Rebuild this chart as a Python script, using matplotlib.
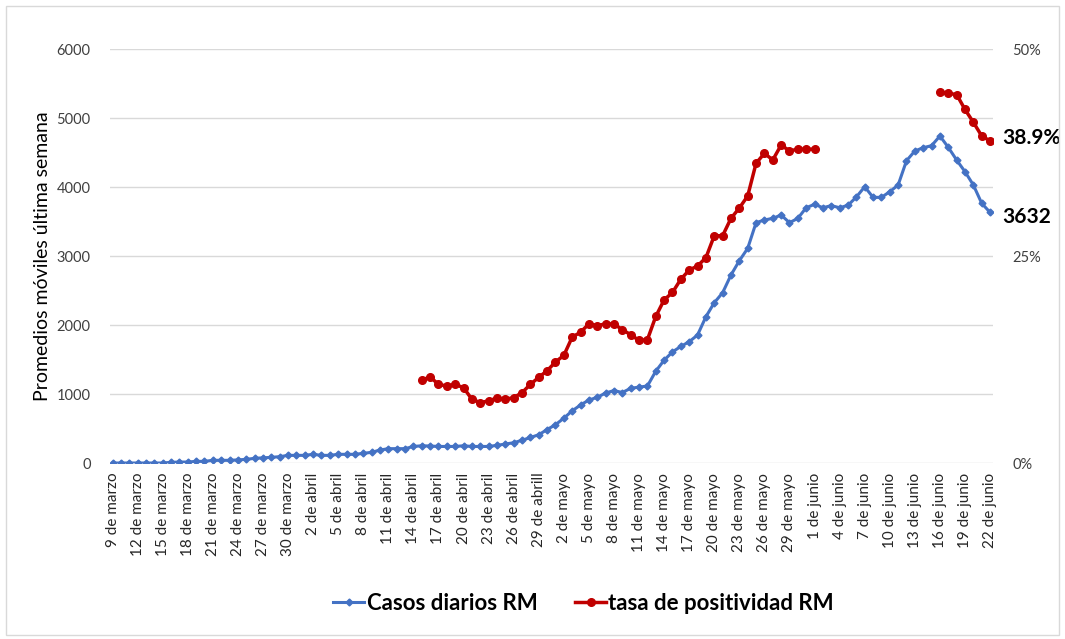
import numpy as np
import matplotlib
matplotlib.use("Agg")
import matplotlib.pyplot as plt
from matplotlib.patches import Rectangle
from matplotlib.lines import Line2D

plt.rcParams['font.family'] = ['Lato', 'DejaVu Sans']

# ---- data ----
tick_labels = [
    "9 de marzo", "12 de marzo", "15 de marzo", "18 de marzo", "21 de marzo",
    "24 de marzo", "27 de marzo", "30 de marzo", "2 de abril", "5 de abril",
    "8 de abril", "11 de abril", "14 de abril", "17 de abril", "20 de abril",
    "23 de abril", "26 de abril", "29 de abrill", "2 de mayo", "5 de mayo",
    "8 de mayo", "11 de mayo", "14 de mayo", "17 de mayo", "20 de mayo",
    "23 de mayo", "26 de mayo", "29 de mayo", "1 de junio", "4 de junio",
    "7 de junio", "10 de junio", "13 de junio", "16 de junio", "19 de junio",
    "22 de junio",
]

casos = [
    0, 0, 0, 0, 0, 0, 0, 10, 14, 14,
    24, 24, 39, 39, 39, 45, 53, 68, 75, 82,
    92, 111, 111, 111, 126, 111, 111, 126, 126, 126,
    140, 155, 188, 208, 208, 208, 240, 250, 246, 240,
    240, 240, 250, 240, 240, 240, 256, 275, 294, 330,
    370, 410, 485, 555, 650, 756, 841, 913, 952, 1015,
    1050, 1022, 1083, 1100, 1116, 1330, 1490, 1610, 1690, 1758,
    1855, 2120, 2323, 2468, 2725, 2932, 3111, 3483, 3522, 3546,
    3594, 3483, 3546, 3700, 3749, 3700, 3730, 3700, 3735, 3855,
    4004, 3850, 3850, 3932, 4029, 4381, 4522, 4570, 4599, 4739,
    4575, 4391, 4222, 4029, 3764, 3632,
]

positividad_abr_jun = [
    10.0, 10.4, 9.5, 9.3, 9.5, 9.1, 7.7, 7.3, 7.5, 7.85,
    7.7, 7.9, 8.5, 9.5, 10.35, 11.15, 12.2, 13.0, 15.2, 15.8,
    16.8, 16.6, 16.8, 16.8, 16.1, 15.5, 14.8, 14.9, 17.7, 19.7,
    20.6, 22.2, 23.3, 23.8, 24.8, 27.45, 27.45, 29.55, 30.8, 32.25,
    36.2, 37.4, 36.6, 38.4, 37.7, 37.9, 37.9, 37.9,
]
positividad_jun = [44.8, 44.65, 44.5, 42.7, 41.15, 39.5, 38.9]

pos_start_1 = 37   # 15 de abril
pos_start_2 = 99   # 16 de junio

# ---- build series ----
n = len(casos)
x = np.arange(n)
pos = np.full(n, np.nan)
pos[pos_start_1:pos_start_1 + len(positividad_abr_jun)] = positividad_abr_jun
pos[pos_start_2:pos_start_2 + len(positividad_jun)] = positividad_jun

blue = "#4472C4"
red = "#C00000"
grid_c = "#D9D9D9"
txt_c = "#404040"

fig = plt.figure(figsize=(10.65, 6.39), dpi=100)
fig.patches.append(Rectangle((0.006, 0.006), 0.988, 0.985, transform=fig.transFigure,
                             fill=False, edgecolor="#D9D9D9", lw=1))

ax = fig.add_axes([0.1033, 0.2754, 0.8287, 0.6479])
ax2 = ax.twinx()

ax.set_ylim(0, 6000)
ax.set_yticks(np.arange(0, 6001, 1000))
ax.set_xlim(-0.3, n - 1 + 0.3)
ax.grid(axis='y', color=grid_c, lw=1)
ax.set_axisbelow(True)
for s in ax.spines.values():
    s.set_visible(False)
for s in ax2.spines.values():
    s.set_visible(False)
ax.tick_params(axis='both', length=0)
ax.tick_params(axis='y', labelsize=10.5, colors=txt_c, pad=14)
ax.set_xticks(x[::3])
ax.set_xticklabels(tick_labels, rotation=90, fontsize=11, color="#262626")
ax.tick_params(axis='x', pad=7)

ax.plot(x, casos, color=blue, lw=2.2, marker='D', ms=3.5, zorder=3)

ax2.set_ylim(0, 50)
ax2.set_yticks([0, 25, 50])
ax2.set_yticklabels(["0%", "25%", "50%"])
ax2.tick_params(axis='y', length=0, labelsize=10.5, colors=txt_c, pad=14)
ax2.plot(x, pos, color=red, lw=2.5, marker='o', ms=5.5, zorder=3)

ax.set_ylabel("Promedios móviles última semana", fontsize=14, color="black", labelpad=4)

ax2.annotate(f"{positividad_jun[-1]:.1f}%", xy=(n - 1, positividad_jun[-1]),
             xytext=(9, 2), textcoords='offset points', fontsize=15,
             fontweight='bold', va='center', ha='left', annotation_clip=False)
ax.annotate(f"{casos[-1]}", xy=(n - 1, casos[-1]),
            xytext=(9, -3), textcoords='offset points', fontsize=15,
            fontweight='bold', va='center', ha='left', annotation_clip=False)

handles = [
    Line2D([0], [0], color=blue, lw=2.2, marker='D', ms=3.5),
    Line2D([0], [0], color=red, lw=2.5, marker='o', ms=5.5),
]
fig.legend(handles, ["Casos diarios RM", "tasa de positividad RM"],
           loc='center', bbox_to_anchor=(0.548, 0.056), ncol=2, frameon=False,
           prop={'size': 16, 'weight': 'bold'}, handlelength=1.4,
           handletextpad=0.1, columnspacing=1.7)

fig.savefig("out.png", dpi=100)
